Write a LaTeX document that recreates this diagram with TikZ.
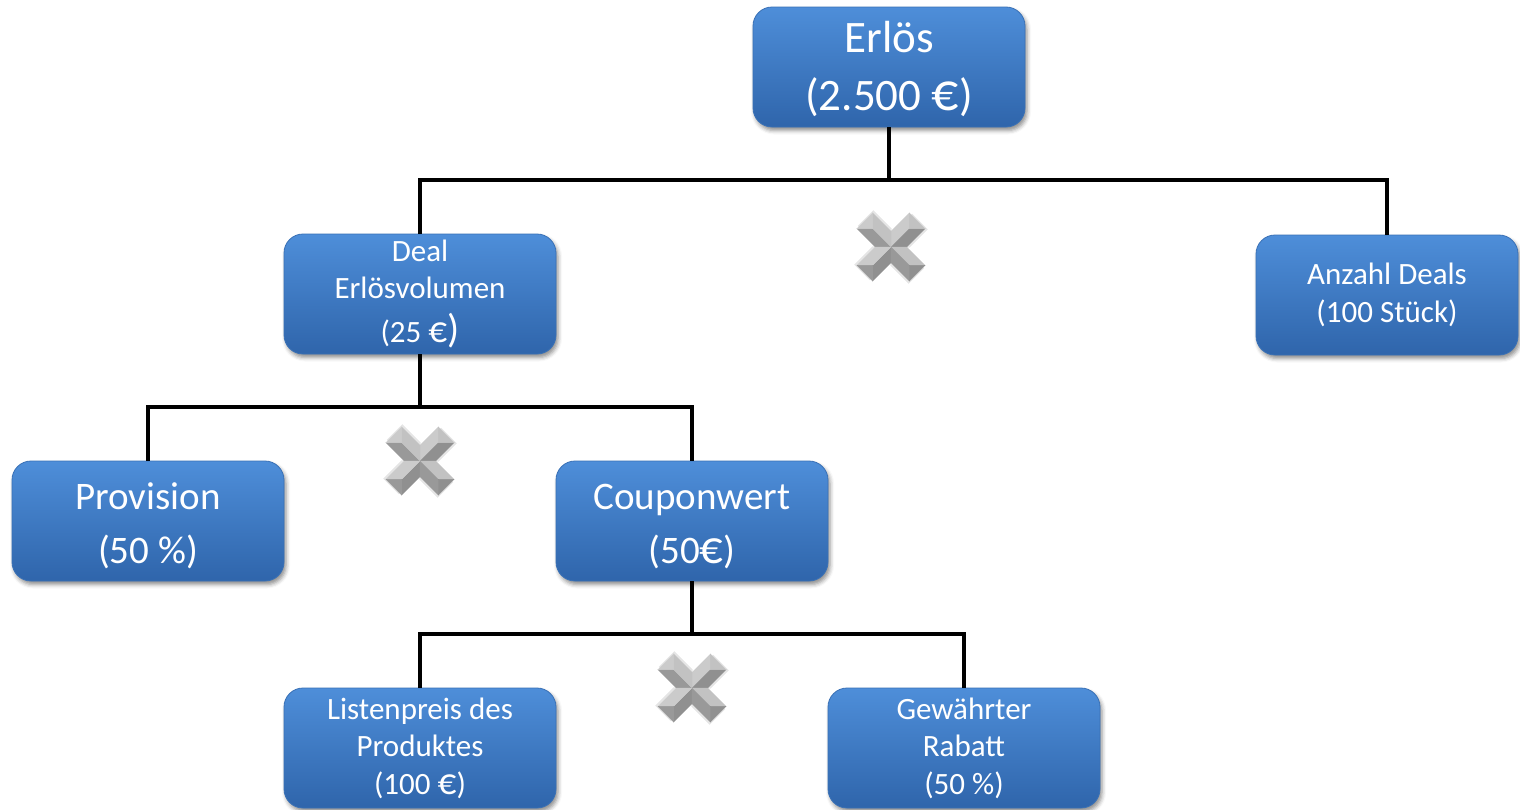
\documentclass[tikz,border=0pt]{standalone}
\usepackage{fontspec}
\setmainfont{Carlito}
\usetikzlibrary{shadows.blur}

\definecolor{boxtop}{HTML}{4E8ED9}
\definecolor{boxbot}{HTML}{2F65AB}
\definecolor{boxedge}{HTML}{3A71B6}

\newcommand\fontbig{\fontsize{45}{58}\selectfont}
\newcommand\fontmid{\fontsize{39}{54}\selectfont}
\newcommand\fontsml{\fontsize{31}{37.5}\selectfont}
% euro sign at full cap height
\newcommand\bigeuro{\scalebox{1.2}{€}}

\tikzset{
  box/.style={rectangle, rounded corners=19pt, minimum width=272pt,
    minimum height=120pt, inner sep=0pt, text=white, align=center,
    top color=boxtop, bottom color=boxbot, draw=boxedge, line width=0.8pt,
    blur shadow={shadow xshift=2pt, shadow yshift=-3.5pt,
      shadow blur radius=4pt, shadow opacity=45}},
  link/.style={draw=black, line width=3.8pt, line join=miter},
  pics/xmark/.style={code={
    \begin{scope}[x=1pt, y=1pt]
      % faint shadow under the cross
      \foreach \d in {45,135,225,315}{
        \fill[black, opacity=0.10, rotate=\d, shift={(1.5pt,-2.5pt)}]
          (0,0) -- (11,11) -- (37,11) -- (37,-11) -- (11,-11) -- cycle;
      }
      % bevelled arms: two long faces and one end face per arm
      \foreach \d in {45,135,225,315}{
        \begin{scope}[rotate=\d]
          \pgfmathsetmacro\ba{0.68+0.14*cos(\d+90-100)}
          \pgfmathsetmacro\bb{0.68+0.14*cos(\d-90-100)}
          \pgfmathsetmacro\bc{0.68+0.14*cos(\d-100)}
          \definecolor{facea}{gray}{\ba}
          \definecolor{faceb}{gray}{\bb}
          \definecolor{facec}{gray}{\bc}
          \filldraw[fill=facea, draw=facea, line width=0.3pt]
            (0,0) -- (11,11) -- (37,11) -- (26,0) -- cycle;
          \filldraw[fill=faceb, draw=faceb, line width=0.3pt]
            (0,0) -- (11,-11) -- (37,-11) -- (26,0) -- cycle;
          \filldraw[fill=facec, draw=facec, line width=0.3pt]
            (26,0) -- (37,11) -- (37,-11) -- cycle;
        \end{scope}
      }
    \end{scope}
  }}
}

\begin{document}
\begin{tikzpicture}[x=1pt, y=-1pt]
  \useasboundingbox (0,0) rectangle (1520,809);

  % boxes
  \node[box, font=\fontbig] (erl) at (889,67)
    {\rule{0pt}{36pt}Erlös\\(2.500 \bigeuro)};
  \node[box, font=\fontsml] (deal) at (420,294)
    {Deal\\Erlösvolumen\\[6pt](25 \bigeuro{\fontsize{40}{45}\selectfont)}};
  \node[box, font=\fontsml, minimum width=262pt] (anz) at (1387,295)
    {Anzahl Deals\\(100 Stück)};
  \node[box, font=\fontmid] (prov) at (148,521)
    {\rule{0pt}{36pt}Provision\\(50 \%)};
  \node[box, font=\fontmid] (coup) at (692,521)
    {\rule{0pt}{36pt}Couponwert\\(50\bigeuro)};
  \node[box, font=\fontsml] (list) at (420,748)
    {Listenpreis des\\Produktes\\(100 \bigeuro)};
  \node[box, font=\fontsml] (gew) at (964,748)
    {Gewährter\\Rabatt\\(50 \%)};

  % branch points
  \coordinate (j1) at (889,180);
  \coordinate (j2) at (420,407);
  \coordinate (j3) at (692,634);

  % connectors
  \draw[link] (erl.south) -- (j1);
  \draw[link] (deal.north) |- (j1) -| (anz.north);
  \draw[link] (deal.south) -- (j2);
  \draw[link] (prov.north) |- (j2) -| (coup.north);
  \draw[link] (coup.south) -- (j3);
  \draw[link] (list.north) |- (j3) -| (gew.north);

  % multiplication signs
  \pic at (891,247) {xmark};
  \pic at (420,461) {xmark};
  \pic at (692,688) {xmark};
\end{tikzpicture}
\end{document}
